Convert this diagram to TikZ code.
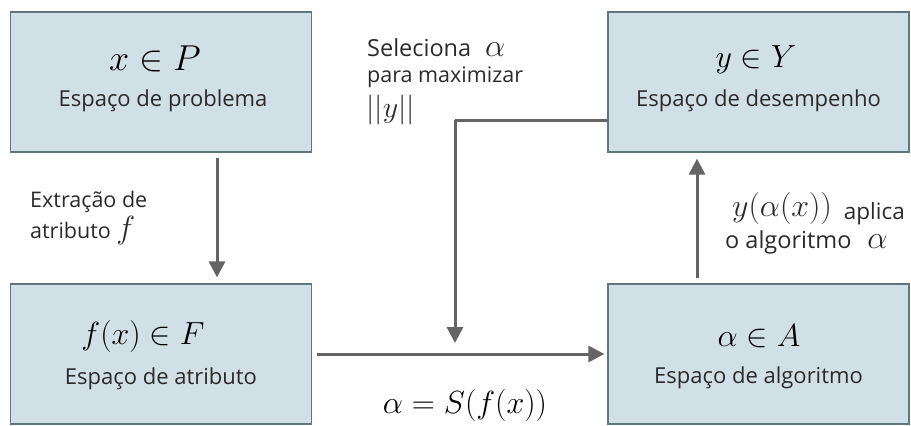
\RequirePackage{fix-cm}
\documentclass[tikz,border=0pt]{standalone}
\usepackage{fontspec}
\setmainfont{Open Sans}
\usetikzlibrary{arrows.meta}
\definecolor{boxfill}{HTML}{D1DFE6}
\definecolor{boxline}{HTML}{5E777E}
\definecolor{arrowc}{HTML}{646464}
\definecolor{txt}{HTML}{2A2A2A}
\newcommand{\mybigmath}[1]{{\fontsize{32}{34}\selectfont$#1$}}
\tikzset{
  spacebox/.style={draw=boxline, line width=1.2pt, fill=boxfill, minimum width=301pt, minimum height=140pt, inner sep=0pt},
  mathlbl/.style={text=black, font=\fontsize{32}{34}\selectfont, inner sep=0pt},
  namelbl/.style={text=txt, font=\fontsize{22}{25}\selectfont, inner sep=0pt},
  sidelbl/.style={text=txt, font=\fontsize{21.5}{24}\selectfont, inner sep=0pt, anchor=west},
  flow/.style={draw=arrowc, line width=3pt, -{Triangle[length=16pt,width=16pt]}},
}
\begin{document}
\begin{tikzpicture}[x=1pt,y=-1pt]
\useasboundingbox (0,0) rectangle (911,426);
% boxes
\node[spacebox] (P) at (161,82) {};
\node[spacebox] (Y) at (758.5,82) {};
\node[spacebox] (F) at (161,354) {};
\node[spacebox] (A) at (758.5,354) {};
% box texts
\node[mathlbl, font=\fontsize{36}{38}\selectfont] (Pm) at (155,59) {$x \in P$};
\node[namelbl] (Pt) at (163,101) {Espaço de problema};
\node[mathlbl] (Ym) at (756,60) {$y \in Y$};
\node[namelbl] (Yt) at (758.5,101) {Espaço de desempenho};
\node[mathlbl] (Fm) at (143,336) {$f(x) \in F$};
\node[namelbl] (Ft) at (161,379) {Espaço de atributo};
\node[mathlbl] (Am) at (759,336) {$\alpha \in A$};
\node[namelbl] (At) at (758.5,378) {Espaço de algoritmo};
% connectors
\draw[flow, shorten <=5pt, shorten >=6pt] (P.south -| 217,0) -- (F.north -| 217,0);
\draw[flow, shorten <=5pt, shorten >=6pt] (A.north -| 697,0) -- (Y.south -| 697,0);
\draw[flow, shorten <=5pt, shorten >=3pt] (F.east |- 0,354) -- (A.west |- 0,354);
\coordinate (c1) at (455,120);
\coordinate (c2) at (455,343);
\draw[flow, -] (Y.west |- c1) -- (c1);
\draw[flow] (c1) -- (c2);
% labels
\node[sidelbl, font=\fontsize{23.5}{26}\selectfont] (s1) at (367,48) {Seleciona\hspace{14pt}\mybigmath{\alpha}};
\node[sidelbl] (s2) at (367,77) {para maximizar};
\node[sidelbl, font=\fontsize{30}{32}\selectfont] (s3) at (366,110) {$||y||$};
\node[sidelbl] (e1) at (30,202) {Extração de};
\node[sidelbl] (e2) at (30,230) {atributo \mybigmath{f}};
\node[sidelbl] (a1) at (732,209) {\mybigmath{y(\alpha(x))}\hspace{12pt}{\fontsize{22.5}{24}\selectfont\raisebox{-3pt}{aplica}}};
\node[sidelbl, font=\fontsize{23.5}{26}\selectfont] (a2) at (725,242) {o algoritmo\hspace{16pt}\mybigmath{\alpha}};
\node[mathlbl] (Sf) at (465,405) {$\alpha = S(f(x))$};
\end{tikzpicture}
\end{document}
